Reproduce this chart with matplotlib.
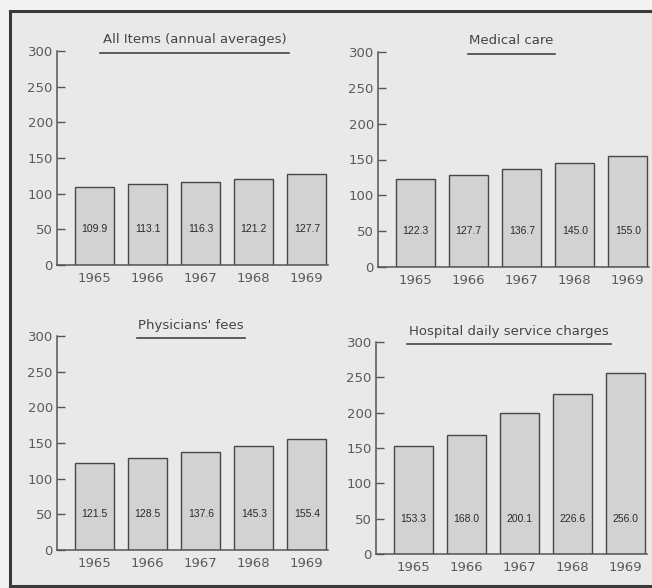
import matplotlib
matplotlib.use("Agg")
import matplotlib.pyplot as plt
from matplotlib.lines import Line2D

years = ["1965", "1966", "1967", "1968", "1969"]
all_items = [109.9, 113.1, 116.3, 121.2, 127.7]
medical_care = [122.3, 127.7, 136.7, 145.0, 155.0]
physicians_fees = [121.5, 128.5, 137.6, 145.3, 155.4]
hospital_charges = [153.3, 168.0, 200.1, 226.6, 256.0]

titles = ["All Items (annual averages)", "Medical care",
          "Physicians' fees", "Hospital daily service charges"]
series = [all_items, medical_care, physicians_fees, hospital_charges]

W, H = 652, 588
BG = "#e9e9e9"
# axes boxes in pixels: left, top(300), bottom(0)
boxes = [(57, 51, 265), (378, 52, 267), (57, 336, 550), (376, 342, 554)]
# title underline: x0, x1
underlines = [(100, 289), (468, 555), (137, 245), (407, 611)]

fig = plt.figure(figsize=(W / 100, H / 100), dpi=100, facecolor="#f3f3f3")

# scanned page frame
fig.patches.append(plt.Rectangle((10 / W, 0), 1, 1 - 11 / H, transform=fig.transFigure,
                                 facecolor=BG, edgecolor="none", zorder=-5))
for xs, ys in [([10, W], [11, 11]), ([10, 10], [11, 586]), ([10, W], [586, 586])]:
    fig.lines.append(Line2D([x / W for x in xs], [1 - y / H for y in ys],
                            transform=fig.transFigure, color="#3a3a3a", lw=2.2))

for (left, top, bot), title, vals, (u0, u1) in zip(boxes, titles, series, underlines):
    ax = fig.add_axes([left / W, 1 - bot / H, 271 / W, (bot - top) / H])
    ax.set_facecolor("none")
    x = range(len(years))
    ax.bar(x, vals, width=0.74, color="#d2d2d2", edgecolor="#474747", linewidth=1.0)
    for i, v in enumerate(vals):
        ax.text(i, 50, f"{v:.1f}", ha="center", va="center", fontsize=7.5,
                family=["Liberation Sans", "DejaVu Sans"], color="#2a2a2a")
    ax.set_xlim(-0.71, 4.4)
    ax.set_ylim(0, 300)
    ax.set_yticks(range(0, 301, 50))
    ax.set_xticks(list(x))
    ax.set_xticklabels(years)
    for s in ["top", "right"]:
        ax.spines[s].set_visible(False)
    for s in ["left", "bottom"]:
        ax.spines[s].set_color("#555555")
        ax.spines[s].set_linewidth(1.1)
    ax.tick_params(axis="y", direction="in", length=6, width=1, color="#555555",
                   labelsize=9.5, labelcolor="#5a5a5a", pad=3)
    ax.tick_params(axis="x", length=0, labelsize=9.5, labelcolor="#5a5a5a", pad=5)

    cx = (u0 + u1) / 2
    fig.text(cx / W, 1 - (top - 11) / H, title, ha="center", va="center",
             fontsize=9.5, color="#444444")
    fig.lines.append(Line2D([u0 / W, u1 / W], [1 - (top + 2) / H] * 2,
                            transform=fig.transFigure, color="#444444", lw=1.2))

fig.savefig("out.png", dpi=100, facecolor=fig.get_facecolor())
